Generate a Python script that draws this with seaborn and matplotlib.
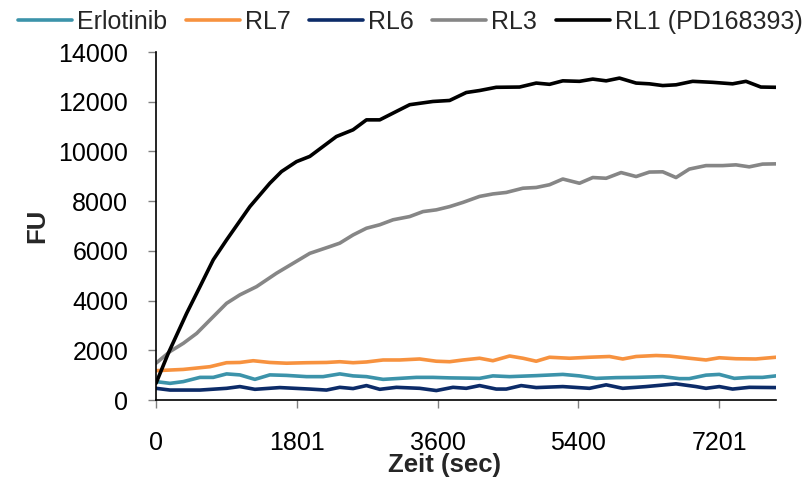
import matplotlib
matplotlib.use("Agg")
import matplotlib.pyplot as plt
import seaborn as sns
import pandas as pd

# ---- data ----
erl_t = [0,179,349,562,732,902,1072,1264,1455,1668,1924,2136,2349,2519,2690,2903,3115,3328,3540,3753,3966,4136,4306,4520,4860,5200,5413,5626,5881,6137,6477,6690,6817,7030,7200,7392,7583,7753,7924]
erl_v = [740,670,740,910,910,1050,1010,830,1010,990,940,940,1050,970,940,830,870,910,910,890,880,870,970,940,980,1030,970,870,900,910,940,860,860,1000,1030,870,910,910,970]

rl7_t = [0,349,690,902,1072,1243,1455,1668,1924,2179,2349,2519,2690,2903,3115,3370,3583,3753,3924,4136,4306,4520,4690,4860,5030,5285,5541,5796,5966,6137,6392,6562,6817,7030,7200,7413,7668,7924]
rl7_v = [1180,1230,1340,1500,1510,1580,1510,1480,1500,1510,1540,1500,1530,1610,1610,1650,1560,1540,1610,1680,1580,1770,1680,1560,1720,1680,1720,1750,1650,1750,1790,1770,1680,1610,1700,1660,1650,1720]

rl6_t = [0,179,562,902,1072,1264,1583,1966,2179,2349,2519,2690,2860,3073,3370,3583,3796,3966,4136,4349,4477,4668,4860,5200,5541,5754,5966,6264,6647,6903,7030,7200,7370,7583,7924]
rl6_v = [470,400,400,470,540,430,500,440,400,510,460,580,430,510,470,380,510,470,580,440,440,580,500,540,470,610,470,540,650,540,470,540,440,510,500]

rl3_t = [0,179,349,520,690,902,1072,1285,1540,1753,1966,2221,2349,2519,2690,2860,3030,3243,3413,3583,3753,3924,4136,4306,4477,4690,4860,5030,5200,5413,5583,5754,5945,6137,6307,6477,6647,6817,7030,7243,7413,7583,7753,7924]
rl3_v = [1480,1950,2280,2680,3220,3890,4230,4560,5100,5500,5900,6170,6310,6640,6910,7050,7250,7380,7580,7650,7780,7950,8190,8290,8350,8520,8550,8660,8890,8720,8950,8920,9150,8990,9170,9180,8950,9290,9430,9430,9460,9380,9490,9500]

rl1_t = [0,157,392,562,732,902,1200,1455,1604,1796,1966,2136,2306,2519,2690,2860,3073,3243,3540,3753,3966,4136,4349,4647,4860,5030,5200,5413,5583,5754,5924,6137,6307,6477,6647,6860,7115,7370,7541,7732,7924]
rl1_v = [672,1880,3490,4560,5640,6440,7780,8720,9190,9590,9800,10200,10600,10870,11270,11270,11610,11880,12010,12050,12370,12450,12580,12590,12750,12700,12840,12820,12910,12840,12950,12750,12720,12650,12680,12820,12780,12720,12820,12590,12580]

series_names = ["Erlotinib", "RL7", "RL6", "RL3", "RL1 (PD168393)"]
series_colors = ["#3C93AA", "#F7923F", "#0C2B68", "#868686", "#000000"]
x_ticks = [0, 1801, 3600, 5400, 7201]
y_ticks = [0, 2000, 4000, 6000, 8000, 10000, 12000, 14000]

frames = []
for name, t, v in zip(series_names,
                      [erl_t, rl7_t, rl6_t, rl3_t, rl1_t],
                      [erl_v, rl7_v, rl6_v, rl3_v, rl1_v]):
    frames.append(pd.DataFrame({"Zeit": t, "FU": v, "Serie": name}))
df = pd.concat(frames, ignore_index=True)

sns.set_style("white")
plt.rcParams["font.family"] = ["Liberation Sans", "DejaVu Sans"]

fig = plt.figure(figsize=(8.11, 4.83), dpi=100)
ax = fig.add_axes([156/811, 1-400/483, 620/811, 348/483])

sns.lineplot(data=df, x="Zeit", y="FU", hue="Serie", hue_order=series_names,
             palette=dict(zip(series_names, series_colors)), linewidth=2.6,
             errorbar=None, ax=ax, legend=True)

ax.set_xlim(0, 7925)
ax.set_ylim(0, 14000)
ax.set_xticks(x_ticks)
ax.set_xticklabels([str(x) for x in x_ticks])
ax.set_yticks(y_ticks)
ax.set_yticklabels([str(y) for y in y_ticks])

for s in ["top", "right"]:
    ax.spines[s].set_visible(False)
for s in ["left", "bottom"]:
    ax.spines[s].set_color("black")
    ax.spines[s].set_linewidth(1.2)

ax.tick_params(axis="x", direction="out", length=6, width=1, color="#808080",
               labelsize=18, pad=16, labelcolor="black", bottom=True)
ax.tick_params(axis="y", direction="out", length=6, width=1, color="#808080",
               labelsize=18, pad=14, labelcolor="black", left=True)

ax.set_ylabel("FU", fontsize=18.5, fontweight="bold", va="center", ha="center")
ax.yaxis.set_label_coords((37-156)/620, 0.5)
ax.set_xlabel("Zeit (sec)", fontsize=18.5, fontweight="bold", va="center", ha="center")
ax.xaxis.set_label_coords((444-156)/620, (400-465)/348)

handles, labels = ax.get_legend_handles_labels()
ax.get_legend().remove()
fig.legend(handles, labels, loc="center", bbox_to_anchor=(0.506, 0.954), ncol=5,
           frameon=False, fontsize=18, handlelength=2.15, handletextpad=0.2,
           columnspacing=0.75, borderaxespad=0, borderpad=0)

fig.savefig("out.png", dpi=100)
